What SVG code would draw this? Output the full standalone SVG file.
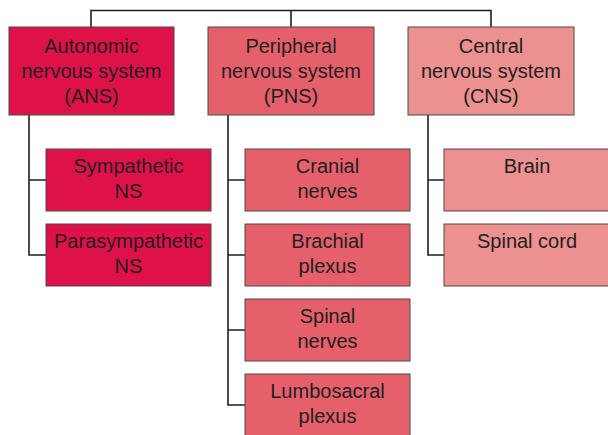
<svg xmlns="http://www.w3.org/2000/svg" width="608" height="435" viewBox="0 0 608 435">
  <style>
    .box { stroke: #4a4a4a; stroke-width: 1; }
    .ans { fill: #de1149; }
    .pns { fill: #e5606b; }
    .cns { fill: #ec9090; }
    .lbl { font-family: "Liberation Sans", Arial, sans-serif; font-size: 20px; fill: #231f20; text-anchor: middle; }
    .conn { fill: none; stroke: #1e1e1e; stroke-width: 1.6; }
  </style>
  <rect width="608" height="435" fill="#ffffff"/>

  <!-- connectors -->
  <g id="connectors" class="conn">
    <path d="M91,27 V10.5 H491 V27"/>
    <path d="M291,10.5 V27"/>
    <path d="M29,115 V255 H46 M29,180 H46"/>
    <path d="M228,115 V405 H245 M228,180 H245 M228,255 H245 M228,330 H245"/>
    <path d="M428,115 V255 H444 M428,180 H444"/>
  </g>

  <!-- top level -->
  <g id="ans">
    <rect class="box ans" x="9" y="27" width="165" height="88"/>
    <text class="lbl" x="91.5" y="53">Autonomic</text>
    <text class="lbl" x="91.5" y="78">nervous system</text>
    <text class="lbl" x="91.5" y="103">(ANS)</text>
  </g>
  <g id="pns">
    <rect class="box pns" x="208" y="27" width="166" height="88"/>
    <text class="lbl" x="291" y="53">Peripheral</text>
    <text class="lbl" x="291" y="78">nervous system</text>
    <text class="lbl" x="291" y="103">(PNS)</text>
  </g>
  <g id="cns">
    <rect class="box cns" x="408" y="27" width="166" height="88"/>
    <text class="lbl" x="491" y="53">Central</text>
    <text class="lbl" x="491" y="78">nervous system</text>
    <text class="lbl" x="491" y="103">(CNS)</text>
  </g>

  <!-- ANS children -->
  <g id="sympathetic">
    <rect class="box ans" x="46" y="149" width="165" height="62"/>
    <text class="lbl" x="128.5" y="173">Sympathetic</text>
    <text class="lbl" x="128.5" y="198">NS</text>
  </g>
  <g id="parasympathetic">
    <rect class="box ans" x="46" y="224" width="165" height="62"/>
    <text class="lbl" x="128.5" y="248">Parasympathetic</text>
    <text class="lbl" x="128.5" y="273">NS</text>
  </g>

  <!-- PNS children -->
  <g id="cranial">
    <rect class="box pns" x="245" y="149" width="165" height="62"/>
    <text class="lbl" x="327.5" y="173">Cranial</text>
    <text class="lbl" x="327.5" y="198">nerves</text>
  </g>
  <g id="brachial">
    <rect class="box pns" x="245" y="224" width="165" height="62"/>
    <text class="lbl" x="327.5" y="248">Brachial</text>
    <text class="lbl" x="327.5" y="273">plexus</text>
  </g>
  <g id="spinal-nerves">
    <rect class="box pns" x="245" y="299" width="165" height="62"/>
    <text class="lbl" x="327.5" y="323">Spinal</text>
    <text class="lbl" x="327.5" y="348">nerves</text>
  </g>
  <g id="lumbosacral">
    <rect class="box pns" x="245" y="374" width="165" height="62"/>
    <text class="lbl" x="327.5" y="398">Lumbosacral</text>
    <text class="lbl" x="327.5" y="423">plexus</text>
  </g>

  <!-- CNS children -->
  <g id="brain">
    <rect class="box cns" x="444" y="149" width="166" height="62"/>
    <text class="lbl" x="527" y="173">Brain</text>
  </g>
  <g id="spinal-cord">
    <rect class="box cns" x="444" y="224" width="166" height="62"/>
    <text class="lbl" x="527" y="248">Spinal cord</text>
  </g>
</svg>
